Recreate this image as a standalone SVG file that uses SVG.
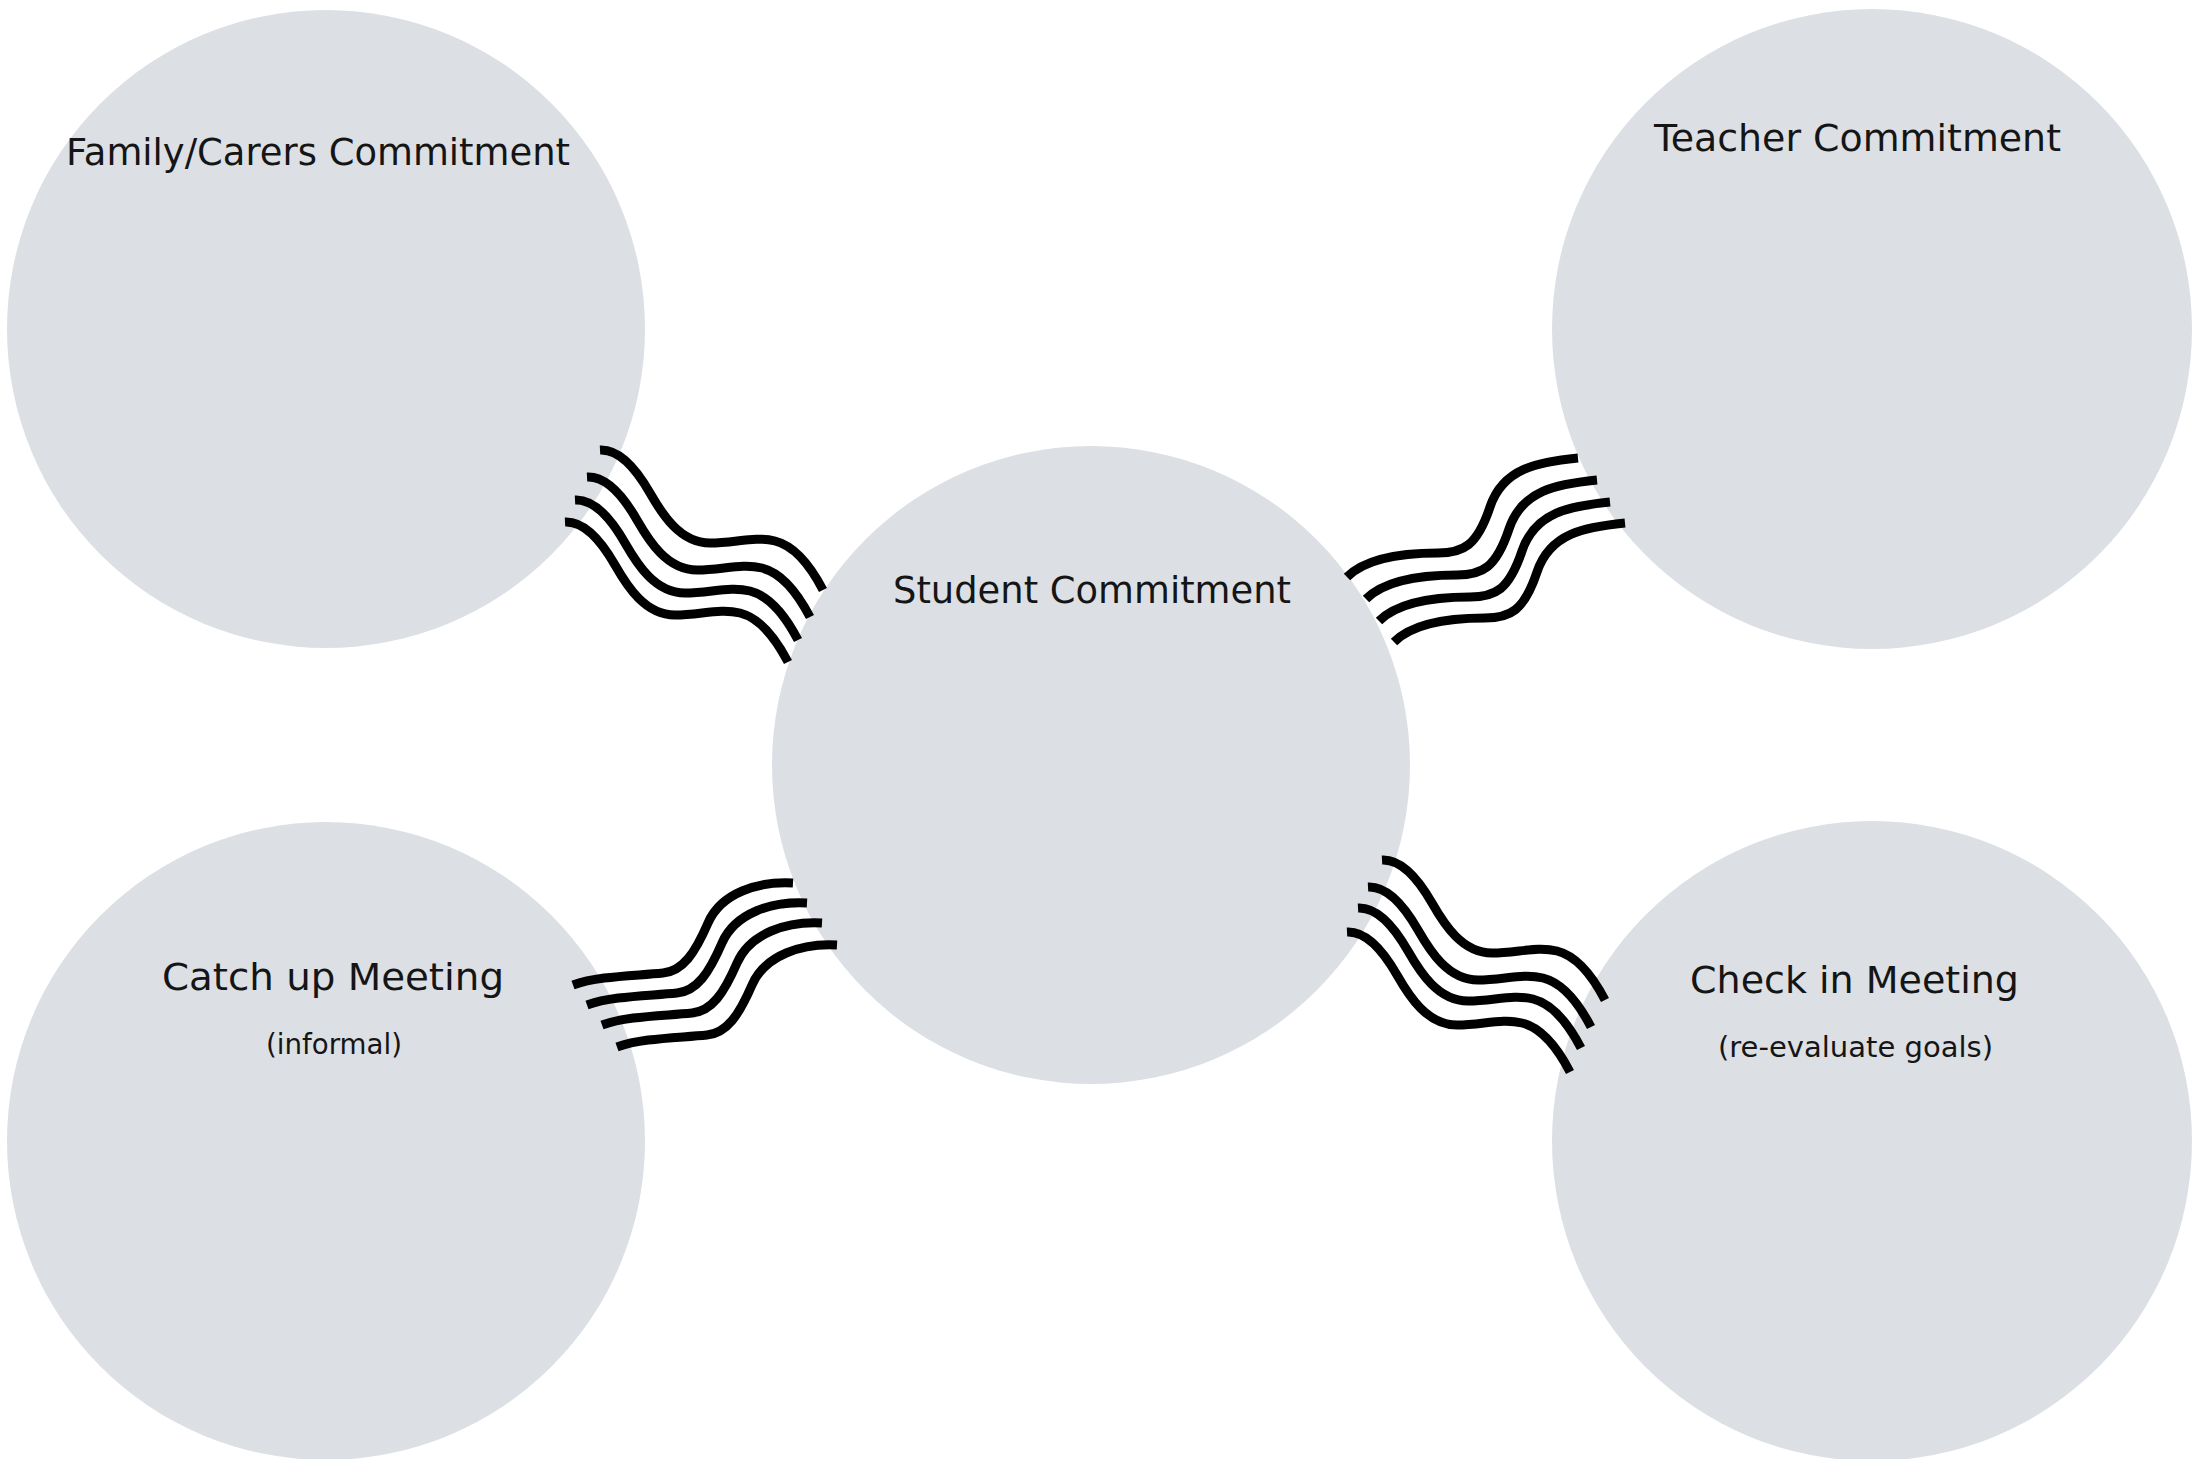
<svg xmlns="http://www.w3.org/2000/svg" xmlns:xlink="http://www.w3.org/1999/xlink" width="2196" height="1459" viewBox="0 0 2196 1459">
<style>
.node{fill:#dce0e4}
.t{font-family:"DejaVu Sans","Liberation Sans",sans-serif;font-size:38px;fill:#151515}
.s{font-family:"DejaVu Sans","Liberation Sans",sans-serif;font-size:28px;fill:#151515}
.w{fill:none;stroke:#000;stroke-width:9;stroke-linecap:butt;stroke-linejoin:round}
</style>
<defs>
<path id="wA" d="M0,0 C20,-1 38,22 50,43 C62,64 80,93 110,93 C135,93 155,86 175,91 C195,96 210,115 223,140"/>
<path id="wB" d="M0,0 C-40,4 -75,10 -88,49 C-101,88 -115,95 -140,95 C-170,95 -210,98 -231,119"/>
<path id="wC" d="M0,0 C-35,-2 -72,10 -85,40 C-98,70 -110,88 -130,90 C-160,93 -195,93 -220,102"/>
</defs>
<rect width="2196" height="1459" fill="#ffffff"/>
<g id="family"><circle class="node" cx="326" cy="329" r="319"/><text class="t" x="66" y="165" textLength="504" lengthAdjust="spacingAndGlyphs">Family/Carers Commitment</text></g>
<g id="teacher"><circle class="node" cx="1872" cy="329" r="320"/><text class="t" x="1654" y="151" textLength="407" lengthAdjust="spacingAndGlyphs">Teacher Commitment</text></g>
<g id="student"><circle class="node" cx="1091" cy="765" r="319"/><text class="t" x="893" y="603" textLength="398" lengthAdjust="spacingAndGlyphs">Student Commitment</text></g>
<g id="catchup"><circle class="node" cx="326" cy="1141" r="319"/><text class="t" x="162" y="990" textLength="342" lengthAdjust="spacingAndGlyphs">Catch up Meeting</text><text class="s" x="266" y="1054" textLength="136" lengthAdjust="spacingAndGlyphs">(informal)</text></g>
<g id="checkin"><circle class="node" cx="1872" cy="1141" r="320"/><text class="t" x="1690" y="993" textLength="329" lengthAdjust="spacingAndGlyphs">Check in Meeting</text><text class="s" x="1718" y="1057" textLength="275" lengthAdjust="spacingAndGlyphs">(re-evaluate goals)</text></g>
<g id="connectors">
<g id="c-family-student" class="w">
<use xlink:href="#wA" x="600" y="450"/><use xlink:href="#wA" x="587" y="477"/><use xlink:href="#wA" x="575" y="500"/><use xlink:href="#wA" x="565" y="522"/>
</g>
<g id="c-teacher-student" class="w">
<use xlink:href="#wB" x="1578" y="458"/><use xlink:href="#wB" x="1597" y="480"/><use xlink:href="#wB" x="1610" y="502"/><use xlink:href="#wB" x="1625" y="523"/>
</g>
<g id="c-catchup-student" class="w">
<use xlink:href="#wC" x="793" y="883"/><use xlink:href="#wC" x="807" y="903"/><use xlink:href="#wC" x="822" y="923"/><use xlink:href="#wC" x="837" y="945"/>
</g>
<g id="c-checkin-student" class="w">
<use xlink:href="#wA" x="1382" y="860"/><use xlink:href="#wA" x="1368" y="887"/><use xlink:href="#wA" x="1358" y="908"/><use xlink:href="#wA" x="1347" y="932"/>
</g>
</g>
</svg>
